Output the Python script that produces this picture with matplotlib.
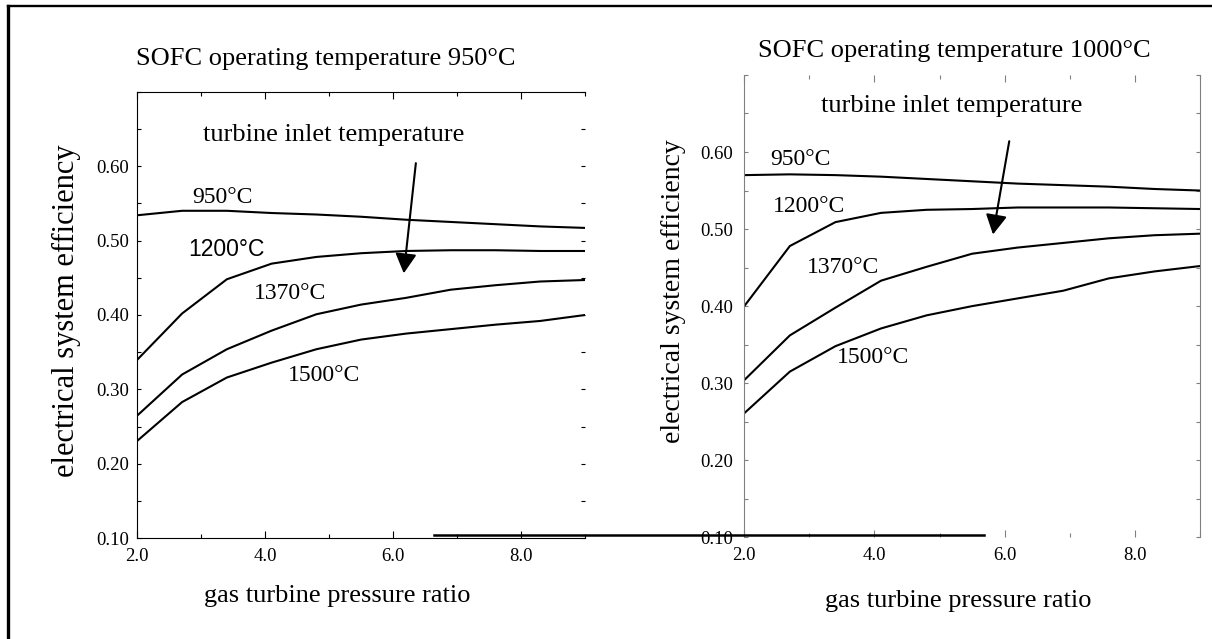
import matplotlib
matplotlib.use("Agg")
import matplotlib.pyplot as plt
from matplotlib.lines import Line2D
from matplotlib.ticker import MultipleLocator, FixedLocator, FixedFormatter

# ---- data -------------------------------------------------------------
pressure_ratio = [2.0, 2.7, 3.4, 4.1, 4.8, 5.5, 6.2, 6.9, 7.6, 8.3, 9.0]

# SOFC operating temperature 950 °C, one series per turbine inlet temperature
sofc950_tit950 = [0.534, 0.540, 0.540, 0.537, 0.535, 0.532, 0.528, 0.525, 0.522, 0.519, 0.517]
sofc950_tit1200 = [0.340, 0.402, 0.448, 0.469, 0.478, 0.483, 0.486, 0.487, 0.487, 0.486, 0.486]
sofc950_tit1370 = [0.265, 0.320, 0.354, 0.379, 0.401, 0.414, 0.423, 0.434, 0.440, 0.445, 0.447]
sofc950_tit1500 = [0.231, 0.283, 0.316, 0.336, 0.354, 0.367, 0.375, 0.381, 0.387, 0.392, 0.400]

# SOFC operating temperature 1000 °C
sofc1000_tit950 = [0.570, 0.571, 0.570, 0.568, 0.565, 0.562, 0.559, 0.557, 0.555, 0.552, 0.550]
sofc1000_tit1200 = [0.400, 0.478, 0.509, 0.521, 0.525, 0.526, 0.528, 0.528, 0.528, 0.527, 0.526]
sofc1000_tit1370 = [0.304, 0.362, 0.398, 0.433, 0.451, 0.468, 0.476, 0.482, 0.488, 0.492, 0.494]
sofc1000_tit1500 = [0.261, 0.315, 0.348, 0.371, 0.388, 0.400, 0.410, 0.420, 0.436, 0.445, 0.452]

curve_labels = ["950°C", "1200°C", "1370°C", "1500°C"]
panel_titles = ["SOFC operating temperature 950°C", "SOFC operating temperature 1000°C"]
x_label = "gas turbine pressure ratio"
y_label = "electrical system efficiency"
arrow_caption = "turbine inlet temperature"
y_tick_values = [0.10, 0.20, 0.30, 0.40, 0.50, 0.60]
y_tick_labels = ["0.10", "0.20", "0.30", "0.40", "0.50", "0.60"]
x_tick_values = [2.0, 4.0, 6.0, 8.0]
x_tick_labels = ["2.0", "4.0", "6.0", "8.0"]

SERIF = "Liberation Serif"
SANS = "Liberation Sans"

fig = plt.figure(figsize=(12.12, 6.39), dpi=100)
fig.patch.set_facecolor("white")


def setup_axes(ax, spine_color, show_top, show_bottom, label_pad):
    ax.set_xlim(2.0, 9.0)
    ax.set_ylim(0.10, 0.70)
    ax.xaxis.set_major_locator(FixedLocator(x_tick_values))
    ax.xaxis.set_major_formatter(FixedFormatter(x_tick_labels))
    ax.xaxis.set_minor_locator(MultipleLocator(1.0))
    ax.yaxis.set_major_locator(FixedLocator(y_tick_values))
    ax.yaxis.set_major_formatter(FixedFormatter(y_tick_labels))
    ax.yaxis.set_minor_locator(MultipleLocator(0.05))
    ax.xaxis.set_ticks_position("both")
    ax.yaxis.set_ticks_position("both")
    ax.tick_params(axis="x", which="major", direction="in", length=5, width=0.8,
                   color=spine_color, pad=7)
    ax.tick_params(axis="x", which="minor", direction="in", length=3, width=0.8,
                   color=spine_color)
    ax.tick_params(axis="y", which="both", direction="in", length=3, width=0.8,
                   color=spine_color, pad=label_pad)
    for lab in ax.get_xticklabels() + ax.get_yticklabels():
        lab.set_fontfamily(SERIF)
        lab.set_fontsize(13.5)
    ax.spines["right"].set_visible(False)
    ax.spines["top"].set_visible(show_top)
    ax.spines["bottom"].set_visible(show_bottom)
    for s in ax.spines.values():
        s.set_color(spine_color)
        s.set_linewidth(0.8)
    ax.set_facecolor("none")


# ---- left panel -------------------------------------------------------
ax1 = fig.add_axes([0.1133, 0.1576, 0.3694, 0.6989])
setup_axes(ax1, "black", True, True, 6)
for series in (sofc950_tit950, sofc950_tit1200, sofc950_tit1370, sofc950_tit1500):
    ax1.plot(pressure_ratio, series, color="black", lw=1.5)

ax1.text(3.33, 0.551, curve_labels[0], family=SERIF, fontsize=17, ha="center", va="baseline")
ax1.text(3.40, 0.479, curve_labels[1], family=SANS, fontsize=16.5, ha="center", va="baseline")
ax1.text(4.39, 0.4217, curve_labels[2], family=SERIF, fontsize=17, ha="center", va="baseline")
ax1.text(4.92, 0.3108, curve_labels[3], family=SERIF, fontsize=17, ha="center", va="baseline")
ax1.text(5.07, 0.634, arrow_caption, family=SERIF, fontsize=19, ha="center", va="baseline")
ax1.annotate("", xy=(6.166, 0.456), xytext=(6.355, 0.604),
             arrowprops=dict(arrowstyle="-|>,head_length=1.2,head_width=0.65",
                             color="black", lw=1.5, shrinkA=0, shrinkB=0,
                             mutation_scale=10))

# ---- right panel ------------------------------------------------------
ax2 = fig.add_axes([0.6141, 0.1592, 0.3760, 0.7235])
setup_axes(ax2, "#808080", False, False, 8)
ax2.spines["right"].set_visible(True)
for series in (sofc1000_tit950, sofc1000_tit1200, sofc1000_tit1370, sofc1000_tit1500):
    ax2.plot(pressure_ratio, series, color="black", lw=1.5)

ax2.text(2.857, 0.583, curve_labels[0], family=SERIF, fontsize=17, ha="center", va="baseline")
ax2.text(3.00, 0.522, curve_labels[1], family=SERIF, fontsize=17, ha="center", va="baseline")
ax2.text(3.52, 0.4424, curve_labels[2], family=SERIF, fontsize=17, ha="center", va="baseline")
ax2.text(3.985, 0.3257, curve_labels[3], family=SERIF, fontsize=17, ha="center", va="baseline")
ax2.text(5.19, 0.652, arrow_caption, family=SERIF, fontsize=19, ha="center", va="baseline")
ax2.annotate("", xy=(5.82, 0.493), xytext=(6.07, 0.614),
             arrowprops=dict(arrowstyle="-|>,head_length=1.2,head_width=0.65",
                             color="black", lw=1.5, shrinkA=0, shrinkB=0,
                             mutation_scale=10))

# ---- titles and axis captions ----------------------------------------
fig.text(0.269, 0.8983, panel_titles[0], family=SERIF, fontsize=19, ha="center", va="baseline")
fig.text(0.787, 0.9113, panel_titles[1], family=SERIF, fontsize=19, ha="center", va="baseline")
fig.text(0.2785, 0.0584, x_label, family=SERIF, fontsize=19, ha="center", va="baseline")
fig.text(0.7904, 0.0506, x_label, family=SERIF, fontsize=19, ha="center", va="baseline")
fig.text(0.0545, 0.5133, y_label, family=SERIF, fontsize=22, rotation=90,
         ha="center", va="center")
fig.text(0.5557, 0.5446, y_label, family=SERIF, fontsize=20, rotation=90,
         ha="center", va="center")

# ---- frame edges and the separating rule -----------------------------
fig.add_artist(Line2D([0.0069, 1.0], [0.9901, 0.9901], transform=fig.transFigure,
                      color="black", lw=1.7))
fig.add_artist(Line2D([0.0069, 0.0069], [0.0, 0.9901], transform=fig.transFigure,
                      color="black", lw=2.4))
fig.add_artist(Line2D([0.3581, 0.8119], [0.1635, 0.1635], transform=fig.transFigure,
                      color="black", lw=1.8))

fig.savefig("out.png", dpi=100, facecolor="white")
